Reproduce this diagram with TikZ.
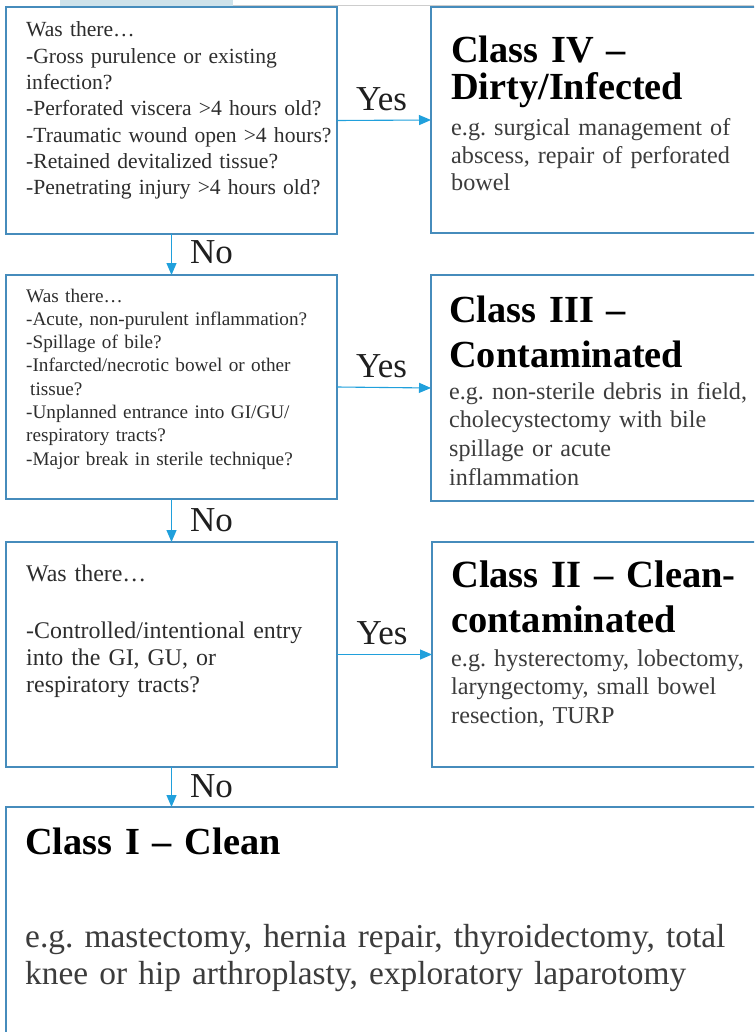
\documentclass[tikz,border=0pt]{standalone}
\usepackage{fontspec}
\setmainfont{Liberation Serif}
\usetikzlibrary{arrows.meta}
\definecolor{boxblue}{RGB}{70,140,188}
\definecolor{arrblue}{RGB}{32,160,220}
\definecolor{stripblue}{RGB}{206,226,234}
\definecolor{qtext}{RGB}{45,45,45}
\definecolor{egtext}{RGB}{60,60,60}
\definecolor{topgray}{RGB}{205,205,205}
\frenchspacing
\begin{document}
\begin{tikzpicture}[x=1pt,y=-1pt,
  box/.style={draw=boxblue, line width=2pt, rectangle, outer sep=0pt, inner sep=0pt, anchor=north west, fill=white},
  qtxt/.style={anchor=base west, inner sep=0pt, align=left, text width=325pt, text=qtext},
  headtxt/.style={anchor=base west, inner sep=0pt, align=left, text width=310pt, text=black},
  egtxt/.style={anchor=base west, inner sep=0pt, align=left, text width=310pt, text=egtext},
  flow/.style={draw=arrblue, line width=1.1pt, -{Triangle[length=12pt,width=10pt]}},
  yn/.style={font=\fontsize{35}{40}\selectfont, text=black!88, inner sep=0pt}
]
\useasboundingbox (0,0) rectangle (754,1032);
\clip (0,0) rectangle (754,1032);
\fill[white] (0,0) rectangle (754,1032);
\fill[stripblue] (60,0) rectangle (233,6);
\draw[topgray, line width=1pt] (233,5.5) -- (754,5.5);

% boxes
\node[box, minimum width=331pt, minimum height=227pt] (q1) at (6,7) {};
\node[box, minimum width=330pt, minimum height=226pt] (c4) at (431,7) {};
\node[box, minimum width=331pt, minimum height=224pt] (q2) at (6,275) {};
\node[box, minimum width=330pt, minimum height=226pt] (c3) at (431,275) {};
\node[box, minimum width=331pt, minimum height=225pt] (q3) at (6,542) {};
\node[box, minimum width=330pt, minimum height=225pt] (c2) at (432,542) {};
\node[box, minimum width=760pt, minimum height=240pt] (c1) at (6,807) {};

% connectors
\draw[flow] (q1.east) -- node[yn, anchor=base, xshift=-2.5pt, yshift=10pt] (y1) {Yes} (c4.west);
\draw[flow] (q2.east) -- node[yn, anchor=base, xshift=-2.5pt, yshift=10pt] (y2) {Yes} (c3.west);
\draw[flow] (q3.east) -- node[yn, anchor=base, xshift=-2.5pt, yshift=10pt] (y3) {Yes} (c2.west);
\draw[flow] (q1.south) -- node[yn, anchor=base west, xshift=18pt, yshift=-9pt] (n1) {No} (q2.north);
\draw[flow] (q2.south) -- node[yn, anchor=base west, xshift=18pt, yshift=-11pt] (n2) {No} (q3.north);
\draw[flow] (q3.south) -- node[yn, anchor=base west, xshift=18pt, yshift=-10pt] (n3) {No} (q3.south |- c1.north);

% question texts
\node[qtxt, font=\fontsize{21.6}{26.3}\selectfont] (q1t) at (26,37) {Was there…\\-Gross purulence or existing\\infection?\\-Perforated viscera >4 hours old?\\-Traumatic wound open >4 hours?\\-Retained devitalized tissue?\\-Penetrating injury >4 hours old?};
\node[qtxt, font=\fontsize{19.2}{23.3}\selectfont] (q2t) at (26,302) {Was there…\\-Acute, non-purulent inflammation?\\-Spillage of bile?\\-Infarcted/necrotic bowel or other\\\hspace*{4pt}tissue?\\-Unplanned entrance into GI/GU/\\respiratory tracts?\\-Major break in sterile technique?};
\node[qtxt, font=\fontsize{23.9}{27}\selectfont] (q3t) at (26,581) {Was there…\\[30pt]-Controlled/intentional entry\\into the GI, GU, or\\respiratory tracts?};

% class texts
\node[headtxt, font=\bfseries\fontsize{38.3}{37}\selectfont] (c4h) at (451,63) {Class IV –\\Dirty/Infected};
\node[egtxt, font=\fontsize{24.2}{27.5}\selectfont] (c4e) at (451,136) {e.g. surgical management of\\abscess, repair of perforated\\bowel};
\node[headtxt, font=\bfseries\fontsize{38.3}{45}\selectfont] (c3h) at (449,322) {Class III –\\Contaminated};
\node[egtxt, font=\fontsize{24.1}{28.7}\selectfont] (c3e) at (449,399) {e.g. non-sterile debris in field,\\cholecystectomy with bile\\spillage or acute\\inflammation};
\node[headtxt, font=\bfseries\fontsize{38.5}{45}\selectfont] (c2h) at (451,587) {Class II – Clean-\\contaminated};
\node[egtxt, font=\fontsize{24.2}{28.5}\selectfont] (c2e) at (451,666) {e.g. hysterectomy, lobectomy,\\laryngectomy, small bowel\\resection, TURP};
\node[headtxt, font=\bfseries\fontsize{38.3}{45}\selectfont] (c1h) at (25,854) {Class I – Clean};
\node[egtxt, text width=725pt, font=\fontsize{33.4}{37}\selectfont] (c1e) at (25,947) {e.g. mastectomy, hernia repair, thyroidectomy, total\\knee or hip arthroplasty, exploratory laparotomy};
\end{tikzpicture}
\end{document}
